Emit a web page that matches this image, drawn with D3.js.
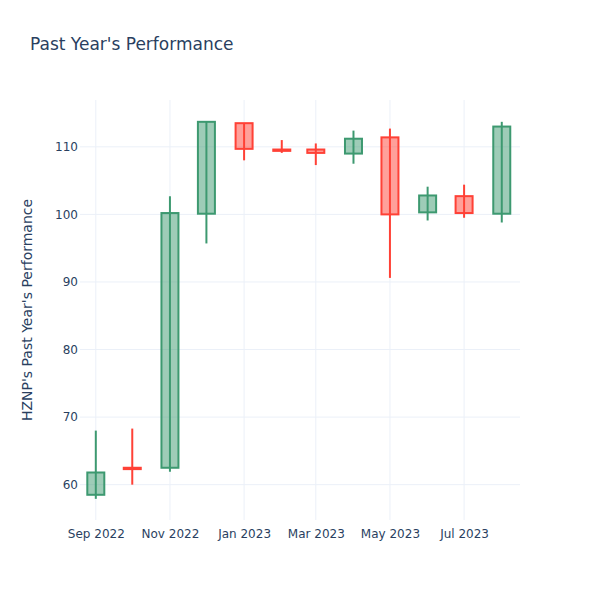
<!DOCTYPE html>
<html><head><meta charset="utf-8">
<script src="https://cdn.jsdelivr.net/npm/d3@7"></script>
<style>body{margin:0;background:#fff}svg,svg text{font-family:"DejaVu Sans",Verdana,sans-serif}</style>
</head><body><div id="chart"></div>
<script>
const dates = ["2022-09-01","2022-10-01","2022-11-01","2022-12-01","2023-01-01","2023-02-01","2023-03-01","2023-04-01","2023-05-01","2023-06-01","2023-07-01","2023-08-01"];
const open  = [58.5, 62.5, 62.5, 100.1, 113.5, 109.6, 109.6, 109.0, 111.4, 100.3, 102.7, 100.1];
const high  = [68.0, 68.3, 102.7, 113.8, 113.5, 111.0, 110.5, 112.4, 112.7, 104.1, 104.4, 113.7];
const low   = [57.9, 60.0, 61.9, 95.7, 108.0, 109.1, 107.3, 107.5, 90.6, 99.1, 99.5, 98.8];
const close = [61.8, 62.3, 100.2, 113.7, 109.7, 109.4, 109.1, 111.2, 100.0, 102.8, 100.2, 113.0];
const yTicks = [60, 70, 80, 90, 100, 110];
const xTicks = ["2022-09-01","2022-11-01","2023-01-01","2023-03-01","2023-05-01","2023-07-01"];
const title = "Past Year's Performance";
const yTitle = "HZNP's Past Year's Performance";

const W = 600, H = 600;
const m = {l: 80, r: 80, t: 100, b: 80};
const parse = d3.utcParse("%Y-%m-%d");
const data = dates.map((d, i) => ({date: parse(d), o: open[i], h: high[i], l: low[i], c: close[i]}));

const svg = d3.select("#chart").append("svg").attr("width", W).attr("height", H);

const x = d3.scaleUtc()
  .domain([d3.utcDay.offset(data[0].date, -13), d3.utcDay.offset(data[data.length-1].date, 15)])
  .range([m.l, W - m.r]);
const yMin = d3.min(low), yMax = d3.max(high), pad = (yMax - yMin) * 0.056;
const y = d3.scaleLinear().domain([yMin - pad, yMax + pad]).range([H - m.b, m.t]);

const grid = svg.append("g");
grid.selectAll("line.v").data(xTicks.map(parse)).join("line")
  .attr("x1", d => x(d)).attr("x2", d => x(d)).attr("y1", m.t).attr("y2", H - m.b)
  .attr("stroke", "#ebf0f8").attr("stroke-width", 1);
grid.selectAll("line.h").data(yTicks).join("line")
  .attr("x1", m.l).attr("x2", W - m.r).attr("y1", d => y(d)).attr("y2", d => y(d))
  .attr("stroke", "#ebf0f8").attr("stroke-width", 1);

const xAxis = d3.axisBottom(x).tickValues(xTicks.map(parse)).tickFormat(d3.utcFormat("%b %Y")).tickSize(0).tickPadding(9);
const gx = svg.append("g").attr("transform", `translate(0,${H - m.b})`).call(xAxis)
  .attr("font-family", "DejaVu Sans").attr("font-size", 12);
gx.select(".domain").remove();
gx.selectAll("text").attr("fill", "#2a3f5f");

const yAxis = d3.axisLeft(y).tickValues(yTicks).tickSize(0).tickPadding(2);
const gy = svg.append("g").attr("transform", `translate(${m.l},0)`).call(yAxis)
  .attr("font-family", "DejaVu Sans").attr("font-size", 12);
gy.select(".domain").remove();
gy.selectAll("text").attr("fill", "#2a3f5f");

const inc = "#3D9970", dec = "#FF4136";
const bw = 17;
const candles = svg.append("g").selectAll("g").data(data).join("g");
candles.append("line")
  .attr("x1", d => x(d.date)).attr("x2", d => x(d.date))
  .attr("y1", d => y(d.h)).attr("y2", d => y(d.l))
  .attr("stroke", d => d.c >= d.o ? inc : dec).attr("stroke-width", 2);
candles.append("rect")
  .attr("x", d => x(d.date) - bw / 2).attr("width", bw)
  .attr("y", d => y(Math.max(d.o, d.c)))
  .attr("height", d => Math.max(0.01, Math.abs(y(d.o) - y(d.c))))
  .attr("fill", d => d.c >= d.o ? inc : dec).attr("fill-opacity", 0.5)
  .attr("stroke", d => d.c >= d.o ? inc : dec).attr("stroke-width", 2);

svg.append("text").attr("x", 30).attr("y", 50).text(title)
  .attr("fill", "#2a3f5f").style("font-size", "17px");
svg.append("text").attr("transform", `translate(32,${(m.t + H - m.b) / 2}) rotate(-90)`)
  .attr("text-anchor", "middle").text(yTitle)
  .attr("fill", "#2a3f5f").style("font-size", "14px");
</script></body></html>
